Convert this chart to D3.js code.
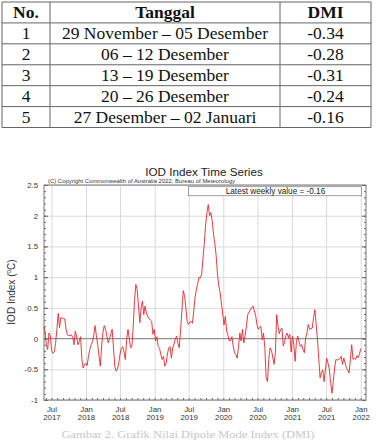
<!DOCTYPE html>
<html>
<head>
<meta charset="utf-8">
<script src="https://cdn.jsdelivr.net/npm/d3@7"></script>
<style>
  body { margin: 0; background: #fff; }
  svg { display: block; }
</style>
</head>
<body>
<script>
// table values
var tableHead = ["No.", "Tanggal", "DMI"];
var tableNo = ["1", "2", "3", "4", "5"];
var tableDates = ["29 November \u2013 05 Desember", "06 \u2013 12 Desember", "13 \u2013 19 Desember",
                  "20 \u2013 26 Desember", "27 Desember \u2013 02 Januari"];
var tableDmi = [-0.34, -0.28, -0.31, -0.24, -0.16];

// weekly IOD index (first week ending 21 May 2017)
var firstWeek = "2017-05-21";
var iodWeekly = [
  0.19, 0.12, -0.10, -0.18, 0.09, 0.05, -0.20, -0.24, -0.22, -0.08,
  0.15, 0.41, 0.18, 0.34, 0.33, 0.33, 0.32, 0.15, 0.06, 0.05,
  0.05, 0.06, 0.02, -0.10, 0.12, 0.03, -0.10, -0.05, 0.03, -0.34,
  -0.48, -0.42, -0.40, -0.44, -0.29, -0.18, -0.10, -0.05, 0.05, 0.21,
  0.05, -0.10, -0.28, -0.45, -0.12, 0.10, 0.21, 0.15, 0.04, -0.07,
  0.00, 0.08, 0.15, -0.15, -0.45, -0.53, -0.50, -0.40, -0.25, -0.16,
  -0.13, -0.22, -0.34, -0.02, 0.15, 0.00, -0.15, -0.13, 0.20, 0.62,
  0.88, 0.80, 0.53, 0.26, 0.50, 0.61, 0.39, 0.53, 0.42, 0.36,
  0.33, 0.30, 0.28, 0.07, 0.15, -0.04, 0.03, -0.13, -0.16, -0.26,
  -0.34, -0.29, -0.45, -0.40, -0.25, -0.15, -0.13, -0.32, -0.15, -0.09,
  0.00, 0.04, -0.08, -0.15, 0.15, 0.45, 0.78, 0.70, 0.50, 0.28,
  0.23, 0.27, 0.28, 0.25, 0.45, 0.68, 0.80, 0.90, 1.00, 0.99,
  1.05, 1.30, 1.55, 1.85, 2.05, 2.18, 2.00, 2.05, 1.92, 1.70,
  1.55, 1.35, 1.05, 0.86, 0.75, 0.58, 0.40, 0.22, 0.36, 0.12,
  0.05, -0.04, -0.03, 0.03, -0.13, -0.23, -0.26, -0.32, -0.13, 0.09,
  -0.04, 0.15, -0.07, 0.05, 0.20, 0.39, 0.43, 0.47, 0.50, 0.53,
  0.45, 0.38, 0.23, 0.15, 0.18, 0.20, -0.02, 0.09, -0.15, -0.64,
  -0.70, -0.34, -0.15, -0.19, -0.30, -0.42, -0.23, 0.39, 0.20, 0.08,
  0.15, 0.17, -0.12, -0.05, 0.05, 0.09, 0.01, 0.07, -0.22, 0.04,
  -0.10, -0.37, -0.05, 0.04, -0.05, -0.13, -0.10, -0.18, -0.23, 0.01,
  0.09, 0.23, 0.15, 0.16, 0.17, 0.34, 0.47, 0.23, -0.02, -0.34,
  -0.64, -0.55, -0.51, -0.70, -0.51, -0.32, -0.40, -0.50, -0.72, -0.89,
  -0.70, -0.48, -0.34, -0.35, -0.34, -0.33, -0.29, -0.42, -0.32, -0.40,
  -0.48, -0.51, -0.56, -0.34, -0.10, -0.34, -0.32, -0.34, -0.28, -0.31,
  -0.24, -0.16
];
var xTicks = ["2017-07-01", "2018-01-01", "2018-07-01", "2019-01-01", "2019-07-01",
              "2020-01-01", "2020-07-01", "2021-01-01", "2021-07-01", "2022-01-01"];
var yTicks = [-1, -0.5, 0, 0.5, 1, 1.5, 2, 2.5];
var latestValue = -0.16;

var W = 376, H = 441;
var svg = d3.select("body").append("svg").attr("width", W).attr("height", H);

var loc = d3.formatLocale({decimal: ".", thousands: ",", grouping: [3], currency: ["", ""], minus: "-"});
var fmt2 = loc.format(".2f");

// ---------- table ----------
var colEdges = [2, 50, 280, 371];
var rowY = d3.scaleBand().domain(d3.range(tableNo.length + 1)).range([2, 127.5]);
var tbl = svg.append("g").attr("font-family", "'Liberation Serif', 'Times New Roman', serif")
  .attr("font-size", 17.5).attr("fill", "#111");

var rows = [tableHead].concat(tableNo.map(function(n, i) {
  return [n, tableDates[i], fmt2(tableDmi[i])];
}));
rows.forEach(function(r, ri) {
  r.forEach(function(t, ci) {
    tbl.append("text")
      .attr("x", (colEdges[ci] + colEdges[ci + 1]) / 2)
      .attr("y", rowY(ri) + rowY.bandwidth() / 2 + 6)
      .attr("text-anchor", "middle")
      .attr("font-weight", ri === 0 ? "bold" : "normal")
      .text(t);
  });
});
tbl.selectAll("line.h").data(d3.range(tableNo.length + 2)).enter().append("line")
  .attr("x1", colEdges[0]).attr("x2", colEdges[3])
  .attr("y1", function(d) { return d <= tableNo.length ? rowY(d) : rowY.range()[1]; })
  .attr("y2", function(d) { return d <= tableNo.length ? rowY(d) : rowY.range()[1]; })
  .attr("stroke", "#666").attr("stroke-width", 1);
tbl.selectAll("line.v").data(colEdges).enter().append("line")
  .attr("x1", function(d) { return d; }).attr("x2", function(d) { return d; })
  .attr("y1", rowY.range()[0]).attr("y2", rowY.range()[1])
  .attr("stroke", "#666").attr("stroke-width", 1);

// ---------- chart ----------
var plot = {left: 44, right: 366, top: 185, bottom: 400};
var parse = d3.timeParse("%Y-%m-%d");
var x = d3.scaleTime()
  .domain([new Date(2017, 4, 22, 12), new Date(2022, 0, 29)])
  .range([plot.left, plot.right]);
var y = d3.scaleLinear().domain([-1, 2.5]).range([plot.bottom, plot.top]);

var start = parse(firstWeek);
var series = iodWeekly.map(function(v, i) {
  return {date: d3.timeDay.offset(start, 7 * i), value: v};
});
var tickDates = xTicks.map(parse);

var chart = svg.append("g").attr("font-family", "'Liberation Sans', Arial, sans-serif");

// grid
chart.append("g").attr("transform", "translate(" + plot.left + ",0)")
  .call(d3.axisLeft(y).tickValues(yTicks).tickSize(-(plot.right - plot.left)).tickFormat(""))
  .call(function(g) { g.select(".domain").remove(); })
  .selectAll("line").attr("stroke", "#dadada");
chart.append("g").attr("transform", "translate(0," + plot.bottom + ")")
  .call(d3.axisBottom(x).tickValues(tickDates).tickSize(-(plot.bottom - plot.top)).tickFormat(""))
  .call(function(g) { g.select(".domain").remove(); })
  .selectAll("line").attr("stroke", "#dadada");
chart.append("line")
  .attr("x1", plot.left).attr("x2", plot.right).attr("y1", y(0)).attr("y2", y(0))
  .attr("stroke", "#8a8a8a");

// minor / major ticks on left & right, monthly ticks on bottom
var minor = d3.range(-10, 26).map(function(k) { return k / 10; });
[["left", plot.left], ["right", plot.right]].forEach(function(s) {
  var ax = s[0] === "left" ? d3.axisLeft : d3.axisRight;
  chart.append("g").attr("transform", "translate(" + s[1] + ",0)")
    .call(ax(y).tickValues(minor).tickSize(-2).tickFormat(""))
    .call(function(g) { g.select(".domain").remove(); })
    .selectAll("line").attr("stroke", "#666");
  chart.append("g").attr("transform", "translate(" + s[1] + ",0)")
    .call(ax(y).tickValues(yTicks).tickSize(-4).tickFormat(""))
    .call(function(g) { g.select(".domain").remove(); })
    .selectAll("line").attr("stroke", "#666");
});
chart.append("g").attr("transform", "translate(0," + plot.bottom + ")")
  .call(d3.axisBottom(x).ticks(d3.timeMonth.every(1)).tickSize(-2).tickFormat(""))
  .call(function(g) { g.select(".domain").remove(); })
  .selectAll("line").attr("stroke", "#666");

chart.append("rect")
  .attr("x", plot.left).attr("y", plot.top)
  .attr("width", plot.right - plot.left).attr("height", plot.bottom - plot.top)
  .attr("fill", "none").attr("stroke", "#777");

// data line
var line = d3.line()
  .x(function(d) { return x(d.date); })
  .y(function(d) { return y(d.value); });
chart.append("path").datum(series)
  .attr("d", line).attr("fill", "none")
  .attr("stroke", "#e8262d").attr("stroke-width", 0.9).attr("stroke-linejoin", "round");

// tick labels
var yl = chart.append("g").attr("transform", "translate(" + (plot.left - 6) + ",0)")
  .call(d3.axisLeft(y).tickValues(yTicks).tickSize(0).tickPadding(0).tickFormat(loc.format("")));
yl.select(".domain").remove();
yl.selectAll("text").attr("font-size", 7.8).attr("fill", "#333").attr("font-family", "'Liberation Sans', Arial, sans-serif");

var xl = chart.append("g").attr("transform", "translate(0," + plot.bottom + ")")
  .call(d3.axisBottom(x).tickValues(tickDates).tickSize(0).tickPadding(6).tickFormat(d3.timeFormat("%b")));
xl.select(".domain").remove();
xl.selectAll("text").attr("font-size", 7.8).attr("fill", "#333").attr("font-family", "'Liberation Sans', Arial, sans-serif")
  .each(function(d) {
    d3.select(this).append("tspan").attr("x", 0).attr("dy", "1.05em").text(d3.timeFormat("%Y")(d));
  });

// titles
chart.append("text").attr("x", 204).attr("y", 176).attr("text-anchor", "middle")
  .attr("font-size", 11.7).attr("fill", "#222").text("IOD Index Time Series");
chart.append("text").attr("x", 48).attr("y", 183.3)
  .attr("font-size", 5.6).attr("fill", "#333")
  .attr("textLength", 187).attr("lengthAdjust", "spacingAndGlyphs")
  .text("(C) Copyright Commonwealth of Australia 2022, Bureau of Meteorology");

var ylab = chart.append("text")
  .attr("transform", "translate(15," + 292 + ") rotate(-90)")
  .attr("text-anchor", "middle").attr("font-size", 10).attr("fill", "#333");
ylab.append("tspan").text("IOD Index (");
ylab.append("tspan").attr("font-size", 6.5).attr("dy", -4).text("o");
ylab.append("tspan").attr("dy", 4).text("C)");

// legend box
chart.append("rect").attr("x", 188.5).attr("y", 186.7).attr("width", 173).attr("height", 9)
  .attr("fill", "#fff").attr("stroke", "#888").attr("stroke-width", 0.8);
chart.append("text").attr("x", 275.5).attr("y", 194.3).attr("text-anchor", "middle")
  .attr("font-size", 8.2).attr("fill", "#222")
  .text("Latest weekly value = " + loc.format(".2f")(latestValue));

// caption (faded in the source)
svg.append("text").attr("x", 188).attr("y", 437.5).attr("text-anchor", "middle")
  .attr("font-family", "'Liberation Serif', 'Times New Roman', serif")
  .attr("font-size", 11).attr("fill", "#c8c8c8")
  .attr("textLength", 253).attr("lengthAdjust", "spacingAndGlyphs")
  .text("Gambar 2. Grafik Nilai Dipole Mode Index (DMI)");
</script>
</body>
</html>
